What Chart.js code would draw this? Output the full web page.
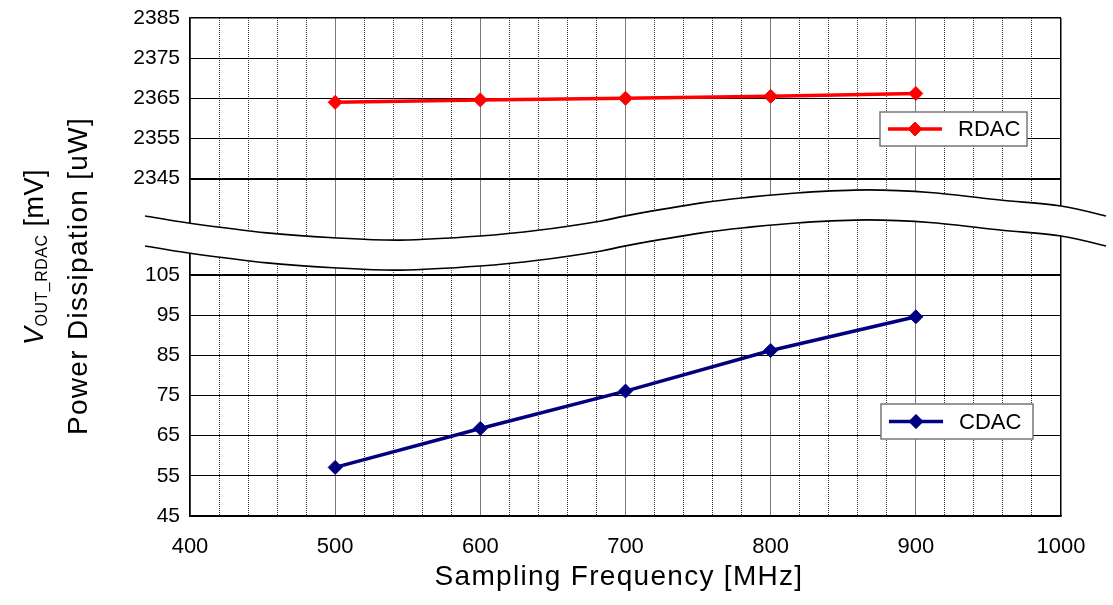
<!DOCTYPE html>
<html>
<head>
<meta charset="utf-8">
<script src="https://cdn.jsdelivr.net/npm/chart.js@4"></script>
<style>
    html, body { margin: 0; padding: 0; background: #fff; }
    #wrap { width: 1113px; height: 605px; }
</style>
</head>
<body>
<div id="wrap"><canvas id="myChart"></canvas></div>
<script>
const FREQ = [500, 600, 700, 800, 900];
const RDAC = [2364.0, 2364.6, 2365.0, 2365.5, 2366.2];
const CDAC = [57.1, 66.8, 76.1, 86.2, 94.6];
const LOWER_TICKS = [45, 55, 65, 75, 85, 95, 105];
const UPPER_TICKS = [2345, 2355, 2365, 2375, 2385];

// broken axis: the upper range is shifted down so it sits GAP units above 105
const GAP = 24;
const SHIFT = UPPER_TICKS[0] - LOWER_TICKS[LOWER_TICKS.length - 1] - GAP;
const up = v => v - SHIFT;
const SPLIT = LOWER_TICKS[LOWER_TICKS.length - 1] + GAP / 2;

// wavy break band (scale values of the upper edge, band is 30px high)
const WAVE_X = [369, 400, 453, 498.5, 544.7, 599.8, 641.1, 682.4, 701, 751.3, 785.8, 820.2, 866.4, 911.8, 958, 1000, 1031];
const WAVE_Y = [119.7, 117.9, 115.5, 114.3, 113.7, 114.7, 116.2, 118.4, 119.8, 122.9, 124.4, 125.5, 126.2, 125.5, 123.7, 122.2, 119.7];

const FONT = "'Liberation Sans', Arial, sans-serif";
Chart.defaults.font.family = FONT;
Chart.defaults.color = '#000';

function splineTo (ctx, pts, move) {
    pts.forEach((p, i) => {
        if (i === 0) {
            move ? ctx.moveTo(p[0], p[1]) : ctx.lineTo(p[0], p[1]);
            return;
        }
        const p0 = pts[i - 2] || pts[i - 1];
        const p1 = pts[i - 1];
        const p3 = pts[i + 1] || p;
        ctx.bezierCurveTo(
            p1[0] + (p[0] - p0[0]) / 6, p1[1] + (p[1] - p0[1]) / 6,
            p[0] - (p3[0] - p1[0]) / 6, p[1] - (p3[1] - p1[1]) / 6,
            p[0], p[1]
        );
    });
}

const breakBand = {
    id: 'breakBand',
    beforeDatasetsDraw (chart) {
        const { ctx, scales: { x, y } } = chart;
        const top = WAVE_X.map((v, i) => [x.getPixelForValue(v), y.getPixelForValue(WAVE_Y[i])]);
        const bottom = top.map(p => [p[0], p[1] + 30]);

        ctx.save();
        ctx.beginPath();
        splineTo(ctx, top, true);
        splineTo(ctx, bottom.slice().reverse(), false);
        ctx.closePath();
        ctx.fillStyle = '#fff';
        ctx.fill();

        ctx.strokeStyle = '#000';
        ctx.lineWidth = 1.6;
        ctx.beginPath();
        splineTo(ctx, top, true);
        ctx.stroke();
        ctx.beginPath();
        splineTo(ctx, bottom, true);
        ctx.stroke();
        ctx.restore();
    }
};

const LEGENDS = [
    { index: 0, left: 880, top: 112, width: 147, height: 34 },
    { index: 1, left: 881, top: 404, width: 152, height: 35 }
];

const boxLegends = {
    id: 'boxLegends',
    afterDatasetsDraw (chart) {
        const { ctx } = chart;

        ctx.save();
        LEGENDS.forEach(l => {
            const ds = chart.data.datasets[l.index];
            const cy = l.top + l.height / 2;

            ctx.fillStyle = '#fff';
            ctx.fillRect(l.left, l.top, l.width, l.height);
            ctx.strokeStyle = '#777';
            ctx.lineWidth = 1.5;
            ctx.strokeRect(l.left, l.top, l.width, l.height);

            ctx.strokeStyle = ds.borderColor;
            ctx.lineWidth = ds.borderWidth;
            ctx.beginPath();
            ctx.moveTo(l.left + 8, cy);
            ctx.lineTo(l.left + 62, cy);
            ctx.stroke();

            ctx.fillStyle = ds.borderColor;
            ctx.lineWidth = 1;
            Chart.helpers.drawPoint(ctx, { pointStyle: 'rectRot', radius: ds.pointRadius, borderWidth: 1 }, l.left + 35, cy);
            ctx.fill();

            ctx.fillStyle = '#000';
            ctx.font = `22px ${FONT}`;
            ctx.textAlign = 'left';
            ctx.textBaseline = 'middle';
            ctx.fillText(ds.label, l.left + 78, cy + 1);
        });
        ctx.restore();
    }
};

const axisTitles = {
    id: 'axisTitles',
    afterDraw (chart) {
        const { ctx } = chart;

        ctx.save();
        ctx.fillStyle = '#000';
        ctx.textBaseline = 'alphabetic';
        ctx.letterSpacing = '1.3px';

        ctx.font = `28px ${FONT}`;
        ctx.textAlign = 'center';
        ctx.fillText('Sampling Frequency [MHz]', 619, 585);

        // line 1: V with subscript
        const parts = [
            { text: 'V', font: `italic 27px ${FONT}`, dy: 0 },
            { text: 'OUT_RDAC', font: `16px ${FONT}`, dy: 4 },
            { text: ' [mV]', font: `27px ${FONT}`, dy: 0 }
        ];
        ctx.letterSpacing = '0.5px';
        const widths = parts.map(p => { ctx.font = p.font; return ctx.measureText(p.text).width; });
        const total = widths.reduce((a, b) => a + b, 0);

        ctx.save();
        ctx.translate(43, 257);
        ctx.rotate(-Math.PI / 2);
        ctx.textAlign = 'left';
        let pos = -total / 2;
        parts.forEach((p, i) => {
            ctx.font = p.font;
            ctx.fillText(p.text, pos, p.dy);
            pos += widths[i];
        });
        ctx.restore();

        ctx.save();
        ctx.letterSpacing = '1.3px';
        ctx.translate(87, 276);
        ctx.rotate(-Math.PI / 2);
        ctx.font = `28px ${FONT}`;
        ctx.textAlign = 'center';
        ctx.fillText('Power Dissipation [uW]', 0, 0);
        ctx.restore();

        ctx.restore();
    }
};

new Chart(document.getElementById('myChart'), {
    type: 'line',
    data: {
        datasets: [
            {
                label: 'RDAC',
                data: FREQ.map((f, i) => ({ x: f, y: up(RDAC[i]) })),
                borderColor: '#ff0000',
                backgroundColor: '#ff0000',
                borderWidth: 3.5,
                pointStyle: 'rectRot',
                pointRadius: 7,
                pointHoverRadius: 7,
                pointBorderWidth: 1,
                tension: 0
            },
            {
                label: 'CDAC',
                data: FREQ.map((f, i) => ({ x: f, y: CDAC[i] })),
                borderColor: '#000080',
                backgroundColor: '#000080',
                borderWidth: 3.5,
                pointStyle: 'rectRot',
                pointRadius: 7,
                pointHoverRadius: 7,
                pointBorderWidth: 1,
                tension: 0
            }
        ]
    },
    options: {
        responsive: true,
        maintainAspectRatio: false,
        animation: false,
        events: [],
        layout: {
            padding: { top: 18, right: 52, left: 0, bottom: 0 }
        },
        plugins: {
            legend: { display: false },
            tooltip: { enabled: false }
        },
        scales: {
            x: {
                type: 'linear',
                min: 400,
                max: 1000,
                afterFit: scale => { scale.height = 89; },
                ticks: {
                    stepSize: 20,
                    autoSkip: false,
                    maxRotation: 0,
                    padding: 18,
                    font: { size: 22 },
                    callback: value => value % 100 === 0 ? value : ''
                },
                grid: {
                    drawTicks: false,
                    color: ctx => {
                        const v = ctx.tick ? ctx.tick.value : 0;
                        if (v === 1000) return '#000';
                        return v % 100 === 0 ? '#7a7a7a' : '#333';
                    },
                    lineWidth: ctx => (ctx.tick && ctx.tick.value === 1000) ? 1.5 : 1
                },
                border: {
                    color: '#000',
                    width: 1.5,
                    dash: ctx => (ctx.tick && ctx.tick.value % 100 !== 0) ? [1, 1] : []
                }
            },
            y: {
                type: 'linear',
                min: LOWER_TICKS[0],
                max: up(UPPER_TICKS[UPPER_TICKS.length - 1]),
                afterFit: scale => {
                    scale.width = 190;
                    scale.paddingTop = 0;
                    scale.paddingBottom = 0;
                },
                afterBuildTicks: scale => {
                    scale.ticks = [...LOWER_TICKS, ...UPPER_TICKS.map(up)].map(v => ({ value: v }));
                },
                ticks: {
                    padding: 10,
                    font: { size: 21 },
                    callback: value => value > SPLIT ? value + SHIFT : value
                },
                grid: {
                    drawTicks: false,
                    color: '#000',
                    lineWidth: ctx => {
                        const v = ctx.tick ? ctx.tick.value : 0;
                        if (v === LOWER_TICKS[LOWER_TICKS.length - 1] || v === up(UPPER_TICKS[0])) return 2;
                        if (v === up(UPPER_TICKS[UPPER_TICKS.length - 1])) return 1.5;
                        return 1;
                    }
                },
                border: {
                    color: '#000',
                    width: 1.5
                }
            }
        }
    },
    plugins: [breakBand, boxLegends, axisTitles]
});
</script>
</body>
</html>
